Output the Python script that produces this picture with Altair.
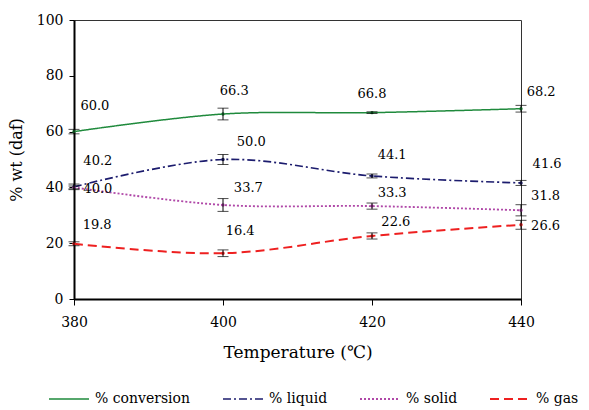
import altair as alt
import pandas as pd

temps = [380, 400, 420, 440]
series = ["% conversion", "% liquid", "% solid", "% gas"]
values = {
    "% conversion": [60.0, 66.3, 66.8, 68.2],
    "% liquid": [40.2, 50.0, 44.1, 41.6],
    "% solid": [40.0, 33.7, 33.3, 31.8],
    "% gas": [19.8, 16.4, 22.6, 26.6],
}
errors = {
    "% conversion": [0.8, 2.1, 0.3, 1.2],
    "% liquid": [1.0, 1.8, 0.7, 0.9],
    "% solid": [0.5, 2.3, 1.1, 2.0],
    "% gas": [0.7, 1.2, 1.1, 1.6],
}
label_text = {
    "% conversion": ["60.0", "66.3", "66.8", "68.2"],
    "% liquid": ["40.2", "50.0", "44.1", "41.6"],
    "% solid": ["40.0", "33.7", "33.3", "31.8"],
    "% gas": ["19.8", "16.4", "22.6", "26.6"],
}
label_x = {
    "% conversion": [382.8, 401.5, 420.0, 442.7],
    "% liquid": [383.2, 403.8, 422.7, 443.5],
    "% solid": [383.2, 403.4, 422.7, 443.3],
    "% gas": [383.1, 402.3, 423.2, 443.3],
}
label_y = {
    "% conversion": [69.2, 74.6, 73.5, 74.2],
    "% liquid": [49.5, 56.3, 51.6, 48.4],
    "% solid": [39.4, 39.8, 38.0, 36.9],
    "% gas": [26.5, 24.4, 27.6, 26.2],
}
colors = ["#1f8a3c", "#1c1c6e", "#b048a8", "#ee2020"]
dashes = [[1, 0], [8, 3, 2, 3], [2, 2], [9, 5]]
widths = [1.5, 2, 2.5, 2]

rows = []
for s in series:
    for i, t in enumerate(temps):
        v = values[s][i]
        e = errors[s][i]
        rows.append({
            "series": s, "temp": t, "value": v,
            "lo": v - e, "hi": v + e,
            "label": label_text[s][i],
            "lx": label_x[s][i], "ly": label_y[s][i],
        })
df = pd.DataFrame(rows)

FONT = "DejaVu Serif"

xscale = alt.Scale(domain=[380, 440], nice=False, zero=False)
yscale = alt.Scale(domain=[0, 100], nice=False)

x_enc = alt.X("temp:Q", scale=xscale,
              axis=alt.Axis(values=temps, title="Temperature (\u2103)", grid=False,
                            tickSize=6, labelPadding=10, titlePadding=15,
                            labelFlush=False,
                            labelFontSize=14, titleFontSize=17, titleFontWeight="normal",
                            domainColor="black", domainWidth=2, tickColor="black",
                            labelColor="black", titleColor="black",
                            labelFont=FONT, titleFont=FONT))
y_enc = alt.Y("value:Q", scale=yscale,
              axis=alt.Axis(values=[0, 20, 40, 60, 80, 100], title="% wt (daf)", grid=False,
                            tickSize=5, labelPadding=6, titlePadding=12,
                            labelFlush=False,
                            labelFontSize=14, titleFontSize=16, titleFontWeight="normal",
                            domainColor="black", domainWidth=2, tickColor="black",
                            labelColor="black", titleColor="black",
                            labelFont=FONT, titleFont=FONT))

color_enc = alt.Color("series:N", scale=alt.Scale(domain=series, range=colors),
                      sort=series,
                      legend=alt.Legend(title=None, orient="none", direction="horizontal",
                                        legendX=-26, legendY=358,
                                        symbolType="stroke", symbolSize=1600,
                                        symbolStrokeWidth=2, labelFontSize=14,
                                        labelFont=FONT, labelColor="black",
                                        labelOffset=5, columnPadding=28))
dash_enc = alt.StrokeDash("series:N", scale=alt.Scale(domain=series, range=dashes),
                          sort=series, legend=None)
width_enc = alt.StrokeWidth("series:N", scale=alt.Scale(domain=series, range=widths),
                            legend=None)

base = alt.Chart(df)

lines = base.mark_line(interpolate="catmull-rom").encode(
    x=x_enc, y=y_enc, color=color_enc, strokeDash=dash_enc, strokeWidth=width_enc,
    detail="series:N")

points = base.mark_point(filled=True, size=12, opacity=1).encode(
    x="temp:Q", y="value:Q",
    color=alt.Color("series:N", scale=alt.Scale(domain=series, range=colors), legend=None))

rules = base.mark_rule(color="black", strokeWidth=1).encode(
    x="temp:Q", y="lo:Q", y2="hi:Q")
cap_lo = base.mark_tick(orient="horizontal", size=11, thickness=1, color="black").encode(
    x="temp:Q", y="lo:Q")
cap_hi = base.mark_tick(orient="horizontal", size=11, thickness=1, color="black").encode(
    x="temp:Q", y="hi:Q")

labels = base.mark_text(font=FONT, fontSize=13, color="black", align="center",
                        baseline="middle").encode(
    x="lx:Q", y="ly:Q", text="label:N")

chart = alt.layer(lines, points, rules, cap_lo, cap_hi, labels).properties(
    width=447, height=279,
    autosize=alt.AutoSizeParams(type="none"),
    padding={"left": 74, "top": 20, "right": 68, "bottom": 111},
    background="white",
).configure_view(stroke="#333333", strokeWidth=1)

chart.save("out.html", embed_options={"renderer": "svg", "actions": False})
